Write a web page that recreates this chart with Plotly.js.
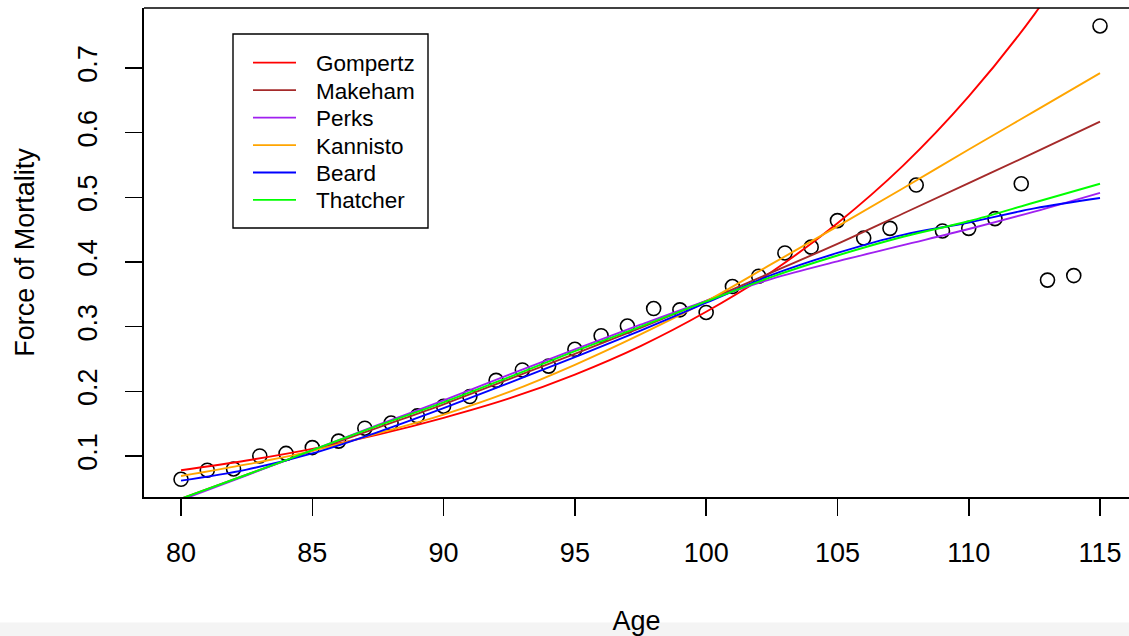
<!DOCTYPE html>
<html>
<head>
<meta charset="utf-8">
<script src="https://cdn.plot.ly/plotly-3.0.1.min.js"></script>
<style>
html,body{margin:0;padding:0;background:#ffffff;overflow:hidden;}
#chart{width:1129px;height:636px;}
</style>
</head>
<body>
<div id="chart"></div>
<script>
// ---- data ----
const ages = [80,81,82,83,84,85,86,87,88,89,90,91,92,93,94,95,96,97,98,99,100,101,102,103,104,105,106,107,108,109,110,111,112,113,114,115];
const observedMu = [0.064,0.078,0.080,0.100,0.104,0.113,0.123,0.143,0.151,0.162,0.177,0.192,0.217,0.233,0.239,0.265,0.286,0.301,0.328,0.326,0.322,0.362,0.378,0.414,0.423,0.464,0.437,0.452,0.519,0.448,0.452,0.467,0.521,0.372,0.379,0.765];

const fitAges = [80,82.5,85,87.5,90,92.5,95,97.5,100,102.5,105,107.5,110,112.5,115];
const gompertz = [0.078,0.093,0.111,0.133,0.159,0.189,0.226,0.270,0.323,0.385,0.460,0.549,0.656,0.783,0.935];
const makeham  = [0.034,0.071,0.108,0.144,0.180,0.219,0.258,0.298,0.340,0.384,0.428,0.475,0.522,0.569,0.617];
const perks    = [0.032,0.070,0.109,0.148,0.186,0.226,0.265,0.303,0.340,0.374,0.401,0.426,0.451,0.478,0.507];
const kannisto = [0.069,0.087,0.108,0.135,0.164,0.199,0.241,0.288,0.339,0.397,0.455,0.514,0.574,0.633,0.692];
const beard    = [0.062,0.079,0.104,0.137,0.174,0.213,0.253,0.294,0.337,0.380,0.414,0.442,0.461,0.483,0.499];
const thatcher = [0.034,0.071,0.109,0.147,0.183,0.222,0.262,0.300,0.339,0.377,0.410,0.439,0.463,0.492,0.521];

const modelNames  = ['Gompertz','Makeham','Perks','Kannisto','Beard','Thatcher'];
const modelValues = [gompertz, makeham, perks, kannisto, beard, thatcher];
const modelColors = ['#FF0000','#A52A2A','#A020F0','#FFA500','#0000FF','#00FF00'];

const xTickVals = [80,85,90,95,100,105,110,115];
const yTickVals = [0.1,0.2,0.3,0.4,0.5,0.6,0.7];
const yTickText = ['0.1','0.2','0.3','0.4','0.5','0.6','0.7'];

// ---- layout geometry ----
const W = 1129, H = 636;
const mL = 144, mR = 0, mT = 8, mB = 139;
const pw = W - mL - mR, ph = H - mT - mB;
const pxX = p => (p - mL) / pw;          // pixel -> paper x
const pxY = p => (H - mB - p) / ph;      // pixel -> paper y
const FONT = 'Liberation Sans, Arial, Helvetica, sans-serif';

// ---- traces ----
const traces = [];
traces.push({
  x: ages, y: observedMu, type: 'scatter', mode: 'markers', name: 'Observed',
  marker: {symbol: 'circle-open', size: 14, color: '#000000', line: {width: 1.6, color: '#000000'}},
  showlegend: false, hoverinfo: 'x+y'
});
modelNames.forEach((nm, i) => {
  traces.push({
    x: fitAges, y: modelValues[i], type: 'scatter', mode: 'lines', name: nm,
    line: {color: modelColors[i], width: 1.9, shape: 'spline', smoothing: 1},
    showlegend: false
  });
});

// ---- manual legend (box, samples, labels) ----
const shapes = [];
const annotations = [];
// top border of the frame (right border lies outside the picture)
shapes.push({type: 'line', xref: 'paper', yref: 'paper', x0: 0, x1: 1, y0: 1, y1: 1,
             line: {color: '#000000', width: 1.6}});
// light grey band at the very bottom of the picture
shapes.push({type: 'rect', xref: 'paper', yref: 'paper', layer: 'below',
             x0: pxX(0), x1: pxX(W), y0: pxY(622.5), y1: pxY(H + 2),
             fillcolor: '#f4f4f4', line: {width: 0}});
// legend box
shapes.push({type: 'rect', xref: 'paper', yref: 'paper',
             x0: pxX(233), x1: pxX(428), y0: pxY(34), y1: pxY(228),
             fillcolor: 'rgba(255,255,255,1)', line: {color: '#000000', width: 1.4}});
const rowY0 = 62.7, rowStep = 27.45;
modelNames.forEach((nm, i) => {
  const yy = rowY0 + i * rowStep;
  shapes.push({type: 'line', xref: 'paper', yref: 'paper',
               x0: pxX(253), x1: pxX(296), y0: pxY(yy), y1: pxY(yy),
               line: {color: modelColors[i], width: 1.8}});
  annotations.push({xref: 'paper', yref: 'paper', x: pxX(314), y: pxY(yy + 1),
                    xanchor: 'left', yanchor: 'middle', showarrow: false, text: nm,
                    font: {family: FONT, size: 22.5, color: '#000000'}});
});

const layout = {
  width: W, height: H,
  margin: {l: mL, r: mR, t: mT, b: mB, pad: 0},
  paper_bgcolor: '#ffffff', plot_bgcolor: '#ffffff',
  showlegend: false,
  font: {family: FONT, color: '#000000'},
  xaxis: {
    range: [78.59, 116.104], autorange: false,
    tickmode: 'array', tickvals: xTickVals,
    ticks: 'outside', ticklen: 17, tickwidth: 1.6, tickcolor: '#000000',
    showline: true, linecolor: '#000000', linewidth: 1.6,
    showgrid: false, zeroline: false,
    tickfont: {family: FONT, size: 27, color: '#000000'},
    ticklabelstandoff: 14,
    title: {text: 'Age', font: {family: FONT, size: 27, color: '#000000'}, standoff: 47}
  },
  yaxis: {
    range: [0.0366, 0.79278], autorange: false,
    tickmode: 'array', tickvals: yTickVals, ticktext: yTickText,
    ticks: 'outside', ticklen: 17, tickwidth: 1.6, tickcolor: '#000000',
    showline: true, linecolor: '#000000', linewidth: 1.6,
    showgrid: false, zeroline: false,
    tickangle: -90,
    tickfont: {family: FONT, size: 27, color: '#000000'},
    ticklabelstandoff: 18,
    title: {text: 'Force of Mortality', font: {family: FONT, size: 27, color: '#000000'}, standoff: 30}
  },
  shapes: shapes,
  annotations: annotations
};

Plotly.newPlot('chart', traces, layout, {displayModeBar: false, staticPlot: true});
</script>
</body>
</html>
